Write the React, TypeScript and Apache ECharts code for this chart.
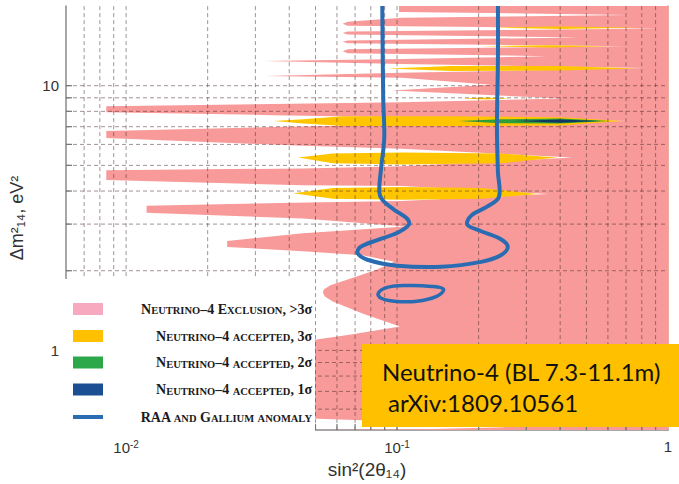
import React, { useEffect, useRef } from "react";
import * as echarts from "echarts";

type P = [number, number];

// axis ranges
const SIN2_RANGE: P = [0.006, 1];
const DM2_RANGE: P = [0.5, 20];

// tick labels
const X_TICKS = [0.01, 0.1, 1];
const X_TICK_LABELS = ["{b|10}{sup|-2}", "{b|10}{sup|-1}", "{b|1}"];
const Y_TICKS = [1, 10];
const Y_TICK_LABELS = ["1", "10"];

// grid values
const SIN2_GRID = [0.007, 0.008, 0.009, 0.01, 0.02, 0.03, 0.04, 0.05, 0.06, 0.07, 0.08, 0.09, 0.1, 0.2, 0.3, 0.4, 0.5, 0.6, 0.7, 0.8, 0.9];
const DM2_GRID = [0.6, 0.7, 0.8, 0.9, 1, 2, 3, 4, 5, 6, 7, 8, 9, 10];

// Neutrino-4 exclusion (>3 sigma): left boundary, top to bottom, closed on sin2 = 1
const EXCLUSION: P[] = [
  [0.1017, 20], [0.1017, 19.0], [0.72, 18.5], [0.104, 18.05], [0.0657, 17.44], [0.063, 17.15], [0.0657, 16.86],
  [0.95, 16.43], [0.0657, 16.02], [0.063, 15.81], [0.0657, 15.61], [0.473, 15.21], [0.0657, 14.83], [0.063, 14.64],
  [0.0657, 14.45], [0.70, 14.09], [0.0657, 13.73], [0.063, 13.49], [0.0657, 13.27], [0.359, 12.93], [0.104, 12.6],
  [0.0322, 12.39], [0.104, 12.07], [0.817, 11.67], [0.104, 11.18], [0.0322, 10.89], [0.104, 10.71], [0.222, 10.09],
  [0.0959, 9.58], [0.41, 8.95], [0.104, 8.65], [0.00845, 8.36], [0.00845, 7.94], [0.035, 7.74], [0.72, 7.35],
  [0.035, 6.98], [0.00845, 6.75], [0.00845, 6.35], [0.045, 5.93], [0.104, 5.78], [0.443, 5.35], [0.104, 4.96],
  [0.045, 4.87], [0.00845, 4.79], [0.00845, 4.40], [0.045, 4.21], [0.104, 4.18], [0.362, 3.90], [0.104, 3.67],
  [0.0414, 3.61], [0.0119, 3.52], [0.0119, 3.31], [0.045, 3.15], [0.107, 2.94], [0.045, 2.77], [0.0236, 2.59],
  [0.0236, 2.46], [0.045, 2.37], [0.0745, 2.29], [0.0975, 2.16], [0.0845, 2.02], [0.0657, 1.852], [0.0565, 1.76],
  [0.0537, 1.70], [0.0532, 1.66], [0.0541, 1.60], [0.0579, 1.53], [0.0745, 1.38], [0.1025, 1.23], [0.0685, 1.15],
  [0.045, 1.08], [0.045, 0.554], [0.1234, 0.535], [0.252, 0.513], [0.1234, 0.504], [0.045, 0.5], [1, 0.5], [1, 20],
];

// Neutrino-4 accepted regions
const ACCEPTED_3SIGMA: P[][] = [
  [[0.222, 16.57], [0.40, 16.74], [0.784, 16.57], [0.40, 16.39]],
  [[0.2043, 14.09], [0.368, 14.23], [0.609, 14.09], [0.368, 13.93]],
  [[0.092, 11.62], [0.1587, 11.87], [0.40, 11.87], [0.764, 11.62], [0.40, 11.42], [0.1587, 11.37]],
  [[0.1727, 8.95], [0.2131, 9.02], [0.2628, 8.95], [0.2131, 8.87]],
  [[0.035, 7.35], [0.045, 7.47], [0.063, 7.67], [0.1587, 7.67], [0.40, 7.60], [0.679, 7.35], [0.40, 7.07], [0.1587, 7.04], [0.063, 7.04], [0.045, 7.19]],
  [[0.0432, 5.35], [0.0579, 5.54], [0.104, 5.59], [0.2417, 5.54], [0.390, 5.35], [0.2417, 5.09], [0.104, 5.04], [0.0579, 5.09]],
  [[0.0414, 3.92], [0.0579, 4.11], [0.104, 4.14], [0.2043, 4.11], [0.330, 3.90], [0.2043, 3.74], [0.104, 3.71], [0.0579, 3.74]],
];
const ACCEPTED_2SIGMA: P[][] = [
  [[0.1684, 7.35], [0.2417, 7.47], [0.40, 7.51], [0.609, 7.35], [0.40, 7.19], [0.2417, 7.22]],
];
const ACCEPTED_1SIGMA: P[][] = [
  [[0.2696, 7.35], [0.40, 7.46], [0.56, 7.35], [0.40, 7.24]],
];

// RAA and Gallium anomaly contour
const RAA_CURVE: P[] = [
  [0.0882, 20], [0.0889, 8.95], [0.0897, 6.35], [0.0874, 4.92], [0.086, 3.97], [0.0882, 3.71], [0.0975, 3.40],
  [0.1088, 3.15], [0.1106, 2.99], [0.1008, 2.79], [0.0845, 2.61], [0.0733, 2.46], [0.0715, 2.33], [0.0777, 2.20],
  [0.1, 2.09], [0.1459, 2.07], [0.2043, 2.16], [0.2417, 2.29], [0.2563, 2.46], [0.2417, 2.63], [0.2043, 2.82],
  [0.1816, 2.99], [0.1878, 3.23], [0.2149, 3.49], [0.2377, 3.80], [0.2357, 4.71], [0.2337, 6.92], [0.2357, 12.6],
  [0.2357, 20],
];
const RAA_ISLAND: P[] = [
  [0.0852, 1.643], [0.092, 1.73], [0.1088, 1.759], [0.1342, 1.745], [0.1484, 1.70], [0.14, 1.60],
  [0.1183, 1.534], [0.0975, 1.534], [0.0874, 1.574],
];

const LEGEND_LABELS = [
  "Neutrino–4 Exclusion, >3σ",
  "Neutrino–4 accepted, 3σ",
  "Neutrino–4 accepted, 2σ",
  "Neutrino–4 accepted, 1σ",
  "RAA and Gallium anomaly",
];
const ANNOTATION = ["Neutrino-4 (BL 7.3-11.1m)", "arXiv:1809.10561"];

const C_PINK = "#F89A9A";
const C_YELLOW = "#FFC600";
const C_GREEN = "#2E9E3A";
const C_NAVY = "#0E3A64";
const C_BLUE = "#2A6CB2";

function smallCaps(t: string): string {
  let out = "";
  let cur = "";
  let curType = "";
  for (const ch of t) {
    const type = ch >= "a" && ch <= "z" ? "s" : "c";
    const val = type === "s" ? ch.toUpperCase() : ch;
    if (type !== curType && cur) {
      out += `{${curType}|${cur}}`;
      cur = "";
    }
    curType = type;
    cur += val;
  }
  if (cur) out += `{${curType}|${cur}}`;
  return out;
}

function polySeries(name: string, shapes: P[][], fill: string, z: number) {
  return {
    type: "custom",
    name,
    coordinateSystem: "cartesian2d",
    silent: true,
    clip: true,
    z,
    data: shapes.map(() => [0.1, 1]),
    encode: { x: 0, y: 1 },
    renderItem: (params: any, api: any) => ({
      type: "polygon",
      shape: { points: shapes[params.dataIndex].map((p) => api.coord(p)) },
      style: { fill },
    }),
  };
}

function matchTick(v: number, ticks: number[], labels: string[]) {
  for (let i = 0; i < ticks.length; i++) {
    if (Math.abs(Math.log10(v) - Math.log10(ticks[i])) < 1e-6) return labels[i];
  }
  return "";
}

export default function App() {
  const ref = useRef<HTMLDivElement>(null);
  useEffect(() => {
    const chart = echarts.init(ref.current!, null, { renderer: "svg" });
    const legendRowsY = [309, 336, 362.5, 389.5, 417];
    const legendColors = ["#F6A9BF", "#FFC000", "#2CA84A", "#1C4E93"];
    const graphic: any[] = [
      { type: "rect", z: 100, shape: { x: 61, y: 279, width: 254, height: 154 }, style: { fill: "#fff" } },
    ];
    legendColors.forEach((c, i) => {
      graphic.push({ type: "rect", z: 101, shape: { x: 73, y: legendRowsY[i] - 6, width: 30, height: 12 }, style: { fill: c } });
    });
    graphic.push({ type: "line", z: 101, shape: { x1: 73, y1: legendRowsY[4], x2: 103, y2: legendRowsY[4] }, style: { stroke: C_BLUE, lineWidth: 4 } });
    LEGEND_LABELS.forEach((t, i) => {
      graphic.push({
        type: "text",
        z: 101,
        x: 312,
        y: legendRowsY[i],
        style: {
          text: smallCaps(t),
          align: "right",
          verticalAlign: "middle",
          rich: {
            c: { fontSize: 14, fontFamily: "Liberation Serif", fontWeight: "bold", fill: "#1a1a1a", color: "#1a1a1a", verticalAlign: "bottom" },
            s: { fontSize: 10.5, fontFamily: "Liberation Serif", fontWeight: "bold", fill: "#1a1a1a", color: "#1a1a1a", verticalAlign: "bottom" },
          },
        },
      });
    });
    graphic.push({ type: "rect", z: 102, shape: { x: 362, y: 344, width: 317, height: 83 }, style: { fill: "#FFC000" } });
    graphic.push({ type: "text", z: 103, x: 382, y: 371, style: { text: ANNOTATION[0], fontFamily: "Lato", fontSize: 24, fill: "#111", verticalAlign: "middle" } });
    graphic.push({ type: "text", z: 103, x: 388, y: 402, style: { text: ANNOTATION[1], fontFamily: "Lato", fontSize: 24, fill: "#111", verticalAlign: "middle" } });

    const gridStyle = { stroke: "rgba(70,40,40,0.5)", lineWidth: 1, lineDash: [4, 3] };
    const tickStyle = { stroke: "#777", lineWidth: 1.2 };

    const option: any = {
      animation: false,
      grid: { left: 60, right: 11, top: 6, bottom: 47 },
      xAxis: {
        type: "log",
        logBase: 10,
        min: SIN2_RANGE[0],
        max: SIN2_RANGE[1],
        name: "sin²(2θ₁₄)",
        nameLocation: "middle",
        nameGap: 29,
        nameTextStyle: { fontFamily: "Liberation Sans", fontSize: 19, color: "#333" },
        axisLine: { show: true, onZero: false, lineStyle: { color: "#8a8a8a", width: 1.5 } },
        axisTick: { show: false },
        splitLine: { show: false },
        axisLabel: {
          margin: 9,
          formatter: (v: number) => matchTick(v, X_TICKS, X_TICK_LABELS),
          rich: {
            b: { fontFamily: "Liberation Sans", fontSize: 15, color: "#333", verticalAlign: "bottom" },
            sup: { fontFamily: "Liberation Sans", fontSize: 10, color: "#333", verticalAlign: "top", padding: [0, 0, 6, 0] },
          },
        },
      },
      yAxis: [
        {
          type: "log",
          logBase: 10,
          min: DM2_RANGE[0],
          max: DM2_RANGE[1],
          name: "Δm²₁₄, eV²",
          nameLocation: "middle",
          nameGap: 40,
          nameTextStyle: { fontFamily: "Liberation Sans", fontSize: 18, color: "#333" },
          axisLine: { show: true, onZero: false, lineStyle: { color: "#8a8a8a", width: 1.5 } },
          axisTick: { show: false },
          splitLine: { show: false },
          axisLabel: {
            margin: 7,
            fontFamily: "Liberation Sans",
            fontSize: 15,
            color: "#333",
            formatter: (v: number) => matchTick(v, Y_TICKS, Y_TICK_LABELS),
          },
        },
        {
          type: "log",
          logBase: 10,
          min: DM2_RANGE[0],
          max: DM2_RANGE[1],
          position: "right",
          axisLine: { show: true, onZero: false, lineStyle: { color: "#E8907C", width: 1.5 } },
          axisTick: { show: false },
          axisLabel: { show: false },
          splitLine: { show: false },
        },
      ],
      series: [
        polySeries("Neutrino-4 exclusion", [EXCLUSION], C_PINK, 1),
        polySeries("accepted 3σ", ACCEPTED_3SIGMA, C_YELLOW, 2),
        polySeries("accepted 2σ", ACCEPTED_2SIGMA, C_GREEN, 3),
        polySeries("accepted 1σ", ACCEPTED_1SIGMA, C_NAVY, 4),
        {
          type: "custom",
          name: "grid",
          coordinateSystem: "cartesian2d",
          silent: true,
          z: 5,
          data: [[0.1, 1]],
          encode: { x: 0, y: 1 },
          renderItem: (params: any, api: any) => {
            const children: any[] = [];
            SIN2_GRID.forEach((v) => {
              const a = api.coord([v, DM2_RANGE[0]]);
              const b = api.coord([v, DM2_RANGE[1]]);
              children.push({ type: "line", shape: { x1: a[0], y1: a[1], x2: b[0], y2: b[1] }, style: gridStyle });
              children.push({ type: "line", shape: { x1: a[0], y1: a[1], x2: a[0], y2: a[1] - 6 }, style: tickStyle });
            });
            DM2_GRID.forEach((v) => {
              const a = api.coord([SIN2_RANGE[0], v]);
              const b = api.coord([SIN2_RANGE[1], v]);
              children.push({ type: "line", shape: { x1: a[0], y1: a[1], x2: b[0], y2: b[1] }, style: gridStyle });
              children.push({ type: "line", shape: { x1: a[0], y1: a[1], x2: a[0] + 6, y2: a[1] }, style: tickStyle });
            });
            return { type: "group", children };
          },
        },
        {
          type: "custom",
          name: "RAA and Gallium anomaly",
          coordinateSystem: "cartesian2d",
          silent: true,
          clip: true,
          z: 6,
          data: [[0.1, 1], [0.1, 1]],
          encode: { x: 0, y: 1 },
          renderItem: (params: any, api: any) => {
            if (params.dataIndex === 0) {
              return {
                type: "polyline",
                shape: { points: RAA_CURVE.map((p) => api.coord(p)), smooth: 0.35 },
                style: { stroke: C_BLUE, lineWidth: 4, fill: "none" },
              };
            }
            return {
              type: "polygon",
              shape: { points: RAA_ISLAND.map((p) => api.coord(p)), smooth: 0.4 },
              style: { stroke: C_BLUE, lineWidth: 3.5, fill: "none" },
            };
          },
        },
      ],
      graphic,
    };
    chart.setOption(option);
    return () => chart.dispose();
  }, []);
  return <div ref={ref} style={{ position: "fixed", left: 0, top: 0, width: 679, height: 484, background: "#fff" }} />;
}
